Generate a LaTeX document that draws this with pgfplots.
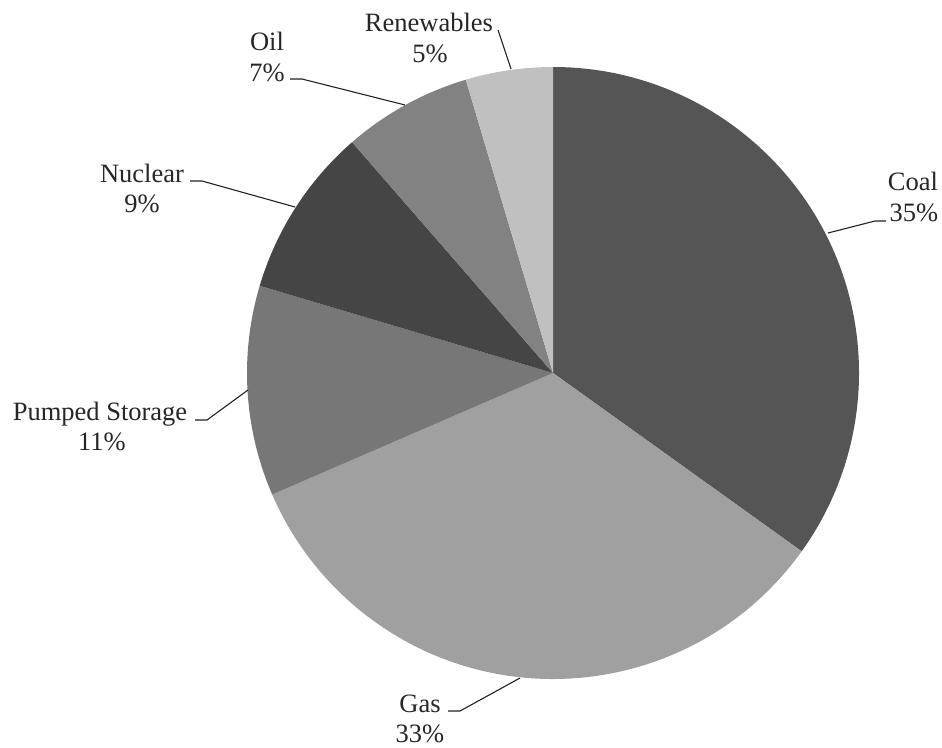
\documentclass[border=0pt]{standalone}
\usepackage{pgfplots}
\usepackage{pgfplotstable}
\pgfplotsset{compat=1.18}
\usepackage{fontspec}
\setmainfont{Liberation Serif}

\definecolor{c0}{HTML}{555555}
\definecolor{c1}{HTML}{A0A0A0}
\definecolor{c2}{HTML}{777777}
\definecolor{c3}{HTML}{454545}
\definecolor{c4}{HTML}{828282}
\definecolor{c5}{HTML}{C0C0C0}
\definecolor{leader}{HTML}{222222}

% share of each source, per cent, clockwise from 12 o'clock
\pgfplotstableread{
label value
Coal 34.9
Gas 33.6
PumpedStorage 11.1
Nuclear 9.0
Oil 6.8
Renewables 4.6
}\piedata

\gdef\cumsum{0}
\pgfplotsforeachungrouped \i in {0,...,5}{%
  \pgfplotstablegetelem{\i}{value}\of\piedata
  \pgfmathsetmacro\tmpa{90-3.6*\cumsum}%
  \pgfmathsetmacro\tmpc{\cumsum+\pgfplotsretval}%
  \pgfmathsetmacro\tmpb{90-3.6*\tmpc}%
  \expandafter\xdef\csname sa\i\endcsname{\tmpa}%
  \expandafter\xdef\csname ea\i\endcsname{\tmpb}%
  \xdef\cumsum{\tmpc}%
}

\begin{document}
\begin{tikzpicture}
\begin{axis}[
  x=1pt, y=1pt, scale only axis,
  xmin=0, xmax=942, ymin=0, ymax=747,
  y dir=reverse,
  hide axis, clip=false,
]
\path (axis cs:0,0) rectangle (axis cs:942,747);
\pgfplotsinvokeforeach{0,...,5}{%
  \fill[c#1] (axis cs:553,373) -- ++(\csname sa#1\endcsname:306pt)
     arc[start angle=\csname sa#1\endcsname, end angle=\csname ea#1\endcsname, radius=306pt] -- cycle;
}
% leader lines
\draw[leader, line width=1.1pt] (axis cs:828,233) -- (axis cs:875,221) -- (axis cs:886,221);
\draw[leader, line width=1.1pt] (axis cs:498,30) -- (axis cs:511,69);
\draw[leader, line width=1.1pt] (axis cs:290,79) -- (axis cs:302,79) -- (axis cs:405,105);
\draw[leader, line width=1.1pt] (axis cs:190,181) -- (axis cs:202,181) -- (axis cs:295,207);
\draw[leader, line width=1.1pt] (axis cs:195,420) -- (axis cs:207,420) -- (axis cs:248,390);
\draw[leader, line width=1.1pt] (axis cs:448,711) -- (axis cs:460,711) -- (axis cs:520,678);
% labels
\tikzset{lab/.style={anchor=base, inner sep=0pt, text=black!85, font=\fontsize{26.5}{32}\selectfont}}
\node[lab] at (axis cs:913,190) {Coal};
\node[lab] at (axis cs:914,221) {35\%};
\node[lab] at (axis cs:429,31) {Renewables};
\node[lab] at (axis cs:430,62) {5\%};
\node[lab] at (axis cs:267,50) {Oil};
\node[lab] at (axis cs:267,81) {7\%};
\node[lab] at (axis cs:142,182) {Nuclear};
\node[lab] at (axis cs:142,212) {9\%};
\node[lab] at (axis cs:100,420) {Pumped Storage};
\node[lab] at (axis cs:102,450) {11\%};
\node[lab] at (axis cs:420,712) {Gas};
\node[lab] at (axis cs:420,742) {33\%};
\end{axis}
\end{tikzpicture}
\end{document}
